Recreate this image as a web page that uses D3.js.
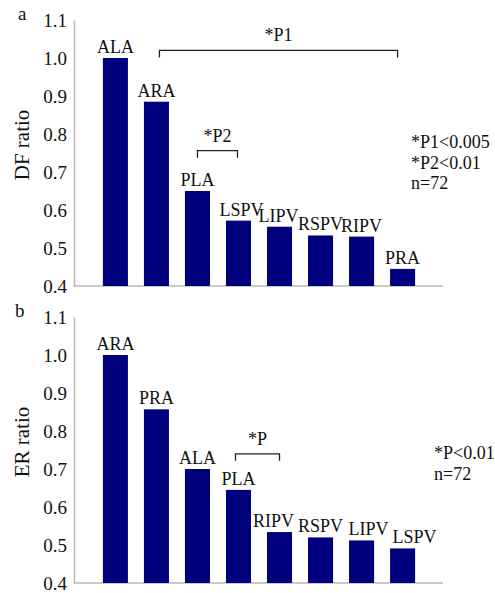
<!DOCTYPE html>
<html>
<head>
<meta charset="utf-8">
<script src="https://cdn.jsdelivr.net/npm/d3@7"></script>
<style>
  body { margin: 0; background: #fff; }
  text { font-family: "Liberation Serif", "Times New Roman", serif; fill: #111; }
</style>
</head>
<body>
<svg id="chart" width="495" height="593"></svg>
<script>
// panel a: dominant frequency ratio
var dfSites = ['ALA', 'ARA', 'PLA', 'LSPV', 'LIPV', 'RSPV', 'RIPV', 'PRA']
var dfValues = [1.0, 0.885, 0.65, 0.572, 0.556, 0.533, 0.53, 0.445]
var dfNotes = ['*P1<0.005', '*P2<0.01', 'n=72']

// panel b: electrogram regularity ratio
var erSites = ['ARA', 'PRA', 'ALA', 'PLA', 'RIPV', 'RSPV', 'LIPV', 'LSPV']
var erValues = [1.0, 0.857, 0.70, 0.645, 0.534, 0.52, 0.512, 0.491]
var erNotes = ['*P<0.01', 'n=72']

var yTicks = [0.4, 0.5, 0.6, 0.7, 0.8, 0.9, 1.0, 1.1]

var svg = d3.select('#chart')
var barColor = '#00007f'
var axisColor = '#b8b8b8'

function drawPanel(opt) {
  var g = svg.append('g')

  var x = d3.scaleBand()
    .domain(opt.sites)
    .range([75, 443])
    .paddingInner(0.39)
    .paddingOuter(0.68)

  var y = d3.scaleLinear()
    .domain([0.4, 1.1])
    .range([opt.bottom, opt.top])

  // y axis
  var yAxis = d3.axisLeft(y)
    .tickValues(yTicks)
    .tickFormat(d3.format('.1f'))
    .tickSize(0)
    .tickPadding(7)
  var ya = g.append('g')
    .attr('transform', 'translate(74,0)')
    .call(yAxis)
  ya.select('.domain').attr('stroke', axisColor).attr('stroke-width', 1.5)
  ya.selectAll('text')
    .style('font-size', '19px')
    .style('font-family', '"Liberation Serif", serif')
    .attr('fill', '#111')

  // x baseline
  g.append('line')
    .attr('x1', 74).attr('x2', 443)
    .attr('y1', y(0.4)).attr('y2', y(0.4))
    .attr('stroke', axisColor).attr('stroke-width', 1.5)

  // bars
  g.selectAll('rect.bar')
    .data(opt.values)
    .enter().append('rect')
    .attr('class', 'bar')
    .attr('x', function(d, i) { return x(opt.sites[i]) })
    .attr('width', x.bandwidth())
    .attr('y', function(d) { return y(d) })
    .attr('height', function(d) { return y(0.4) - y(d) })
    .attr('fill', barColor)

  // bar labels
  g.selectAll('text.lbl')
    .data(opt.values)
    .enter().append('text')
    .attr('class', 'lbl')
    .attr('x', function(d, i) {
      var s = opt.sites[i]
      return x(s) + x.bandwidth() / 2 + (opt.nudge[s] || 0)
    })
    .attr('y', function(d) { return y(d) - 5 })
    .attr('text-anchor', 'middle')
    .style('font-size', '18px')
    .text(function(d, i) { return opt.sites[i] })

  // significance brackets
  opt.brackets.forEach(function(b) {
    var x1 = x(b.from) + x.bandwidth() / 2 + (b.dx1 || 0)
    var x2 = x(b.to) + x.bandwidth() / 2 + (b.dx2 || 0)
    var by = y(b.level)
    g.append('path')
      .attr('d', 'M' + x1 + ',' + (by + 7) + 'V' + by + 'H' + x2 + 'V' + (by + 7))
      .attr('fill', 'none')
      .attr('stroke', '#222')
      .attr('stroke-width', 1.3)
    g.append('text')
      .attr('x', (x1 + x2) / 2)
      .attr('y', by - 9)
      .attr('text-anchor', 'middle')
      .style('font-size', '18px')
      .text(b.label)
  })

  // notes on the right
  g.selectAll('text.note')
    .data(opt.notes)
    .enter().append('text')
    .attr('class', 'note')
    .attr('x', opt.noteX)
    .attr('y', function(d, i) { return opt.noteY + i * 20.5 })
    .style('font-size', '18px')
    .text(function(d) { return d })

  // y title
  g.append('text')
    .attr('transform', 'translate(29,' + ((opt.top + opt.bottom) / 2 - 8) + ') rotate(-90)')
    .attr('text-anchor', 'middle')
    .style('font-size', '21px')
    .text(opt.title)

  // panel letter
  g.append('text')
    .attr('x', opt.letterX)
    .attr('y', opt.top)
    .style('font-size', '19px')
    .text(opt.letter)
}

drawPanel({
  letter: 'a', letterX: 18, title: 'DF ratio',
  sites: dfSites, values: dfValues, notes: dfNotes,
  top: 20, bottom: 286,
  noteX: 411, noteY: 148,
  nudge: { LSPV: 3, LIPV: -1 },
  brackets: [
    { from: 'ARA', to: 'PRA', level: 1.02, label: '*P1', dx1: 3, dx2: -5 },
    { from: 'PLA', to: 'LSPV', level: 0.756, label: '*P2', dx2: -1 }
  ]
})

drawPanel({
  letter: 'b', letterX: 15, title: 'ER ratio',
  sites: erSites, values: erValues, notes: erNotes,
  top: 317, bottom: 583,
  noteX: 434, noteY: 459,
  nudge: { RIPV: -6, LIPV: 7, LSPV: 12 },
  brackets: [
    { from: 'PLA', to: 'RIPV', level: 0.74, label: '*P', dx1: -3 }
  ]
})
</script>
</body>
</html>
